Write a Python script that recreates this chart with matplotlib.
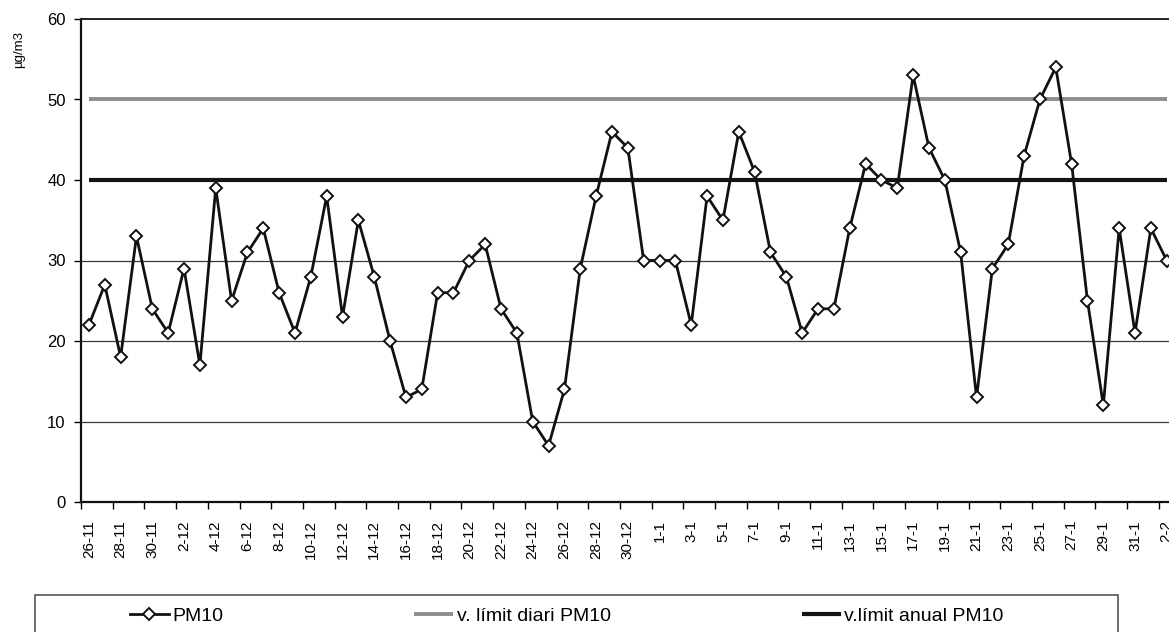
import matplotlib
matplotlib.use("Agg")
import matplotlib.pyplot as plt
from matplotlib.patches import Rectangle

plt.rcParams['font.family'] = ['Liberation Sans', 'DejaVu Sans']

# ---- data ----
dates = ["26-11", "27-11", "28-11", "29-11", "30-11",
         "1-12", "2-12", "3-12", "4-12", "5-12", "6-12", "7-12", "8-12", "9-12", "10-12",
         "11-12", "12-12", "13-12", "14-12", "15-12", "16-12", "17-12", "18-12", "19-12", "20-12",
         "21-12", "22-12", "23-12", "24-12", "25-12", "26-12", "27-12", "28-12", "29-12", "30-12", "31-12",
         "1-1", "2-1", "3-1", "4-1", "5-1", "6-1", "7-1", "8-1", "9-1", "10-1",
         "11-1", "12-1", "13-1", "14-1", "15-1", "16-1", "17-1", "18-1", "19-1", "20-1",
         "21-1", "22-1", "23-1", "24-1", "25-1", "26-1", "27-1", "28-1", "29-1", "30-1", "31-1",
         "1-2", "2-2"]
pm10 = [22, 27, 18, 33, 24,
        21, 29, 17, 39, 25, 31, 34, 26, 21, 28,
        38, 23, 35, 28, 20, 13, 14, 26, 26, 30,
        32, 24, 21, 10, 7, 14, 29, 38, 46, 44, 30,
        30, 30, 22, 38, 35, 46, 41, 31, 28, 21,
        24, 24, 34, 42, 40, 39, 53, 44, 40, 31,
        13, 29, 32, 43, 50, 54, 42, 25, 12, 34, 21,
        34, 30]
limit_diari = 50
limit_anual = 40
y_ticks = [0, 10, 20, 30, 40, 50, 60]
y_label = "µg/m3"
legend_labels = ["PM10", "v. límit diari PM10", "v.límit anual PM10"]

# ---- figure ----
W, H = 1169, 632
fig = plt.figure(figsize=(W / 100, H / 100), dpi=100)
ax_left, ax_right, ax_bottom, ax_top = 81, 1169, 502, 19
ax = fig.add_axes([ax_left / W, 1 - ax_bottom / H, (ax_right - ax_left) / W, (ax_bottom - ax_top) / H])

n = len(pm10)
x = list(range(n))

for g in [10, 20, 30]:
    ax.axhline(g, color='#3a3a3a', lw=0.9, zorder=1)

l_diari, = ax.plot([0, n - 1], [limit_diari, limit_diari], color='#8e8e8e', lw=2.8, zorder=2,
                   solid_capstyle='butt')
l_anual, = ax.plot([0, n - 1], [limit_anual, limit_anual], color='#141414', lw=3.0, zorder=2,
                   solid_capstyle='butt')
l_pm, = ax.plot(x, pm10, color='#111111', lw=2.0, marker='D', markersize=6,
                markerfacecolor='white', markeredgecolor='#111111', markeredgewidth=1.4, zorder=3)

px_per_day = 15.85
ax.set_xlim(-0.5, -0.5 + (ax_right - ax_left) / px_per_day)
ax.set_ylim(0, 60)

ax.set_yticks(y_ticks)
ax.set_yticklabels([str(v) for v in y_ticks], fontsize=12)
ax.tick_params(axis='y', direction='out', length=5, width=1, pad=6)

ax.set_xticks([i - 0.5 for i in range(0, n + 1, 2)])
ax.set_xticklabels([])
ax.set_xticks(list(range(0, n, 2)), minor=True)
ax.set_xticklabels([dates[i] for i in range(0, n, 2)], minor=True, rotation=90, fontsize=11)
ax.tick_params(axis='x', which='major', direction='out', length=5, width=1)
ax.tick_params(axis='x', which='minor', length=0, pad=13)

for s in ['left', 'bottom']:
    ax.spines[s].set_linewidth(1.6)
    ax.spines[s].set_color('#111111')
ax.spines['top'].set_linewidth(1.4)
ax.spines['top'].set_color('#222222')
ax.spines['right'].set_visible(False)

fig.text(19 / W, 1 - 49 / H, y_label, rotation=90, fontsize=9.5, ha='center', va='center')

# legend box
fig.patches.append(Rectangle((35 / W, -0.05), (1118 - 35) / W, 0.05 + (1 - 595 / H),
                             transform=fig.transFigure, fill=False, edgecolor='#555555', lw=1.2))
fig.legend([l_pm, l_diari, l_anual], legend_labels, ncol=3, frameon=False,
           loc='center left', bbox_to_anchor=(130 / W, 1 - 616 / H), borderaxespad=0, borderpad=0,
           fontsize=14, handlelength=2.0, handletextpad=0.2, columnspacing=9.8)

fig.savefig("out.png", dpi=100)
